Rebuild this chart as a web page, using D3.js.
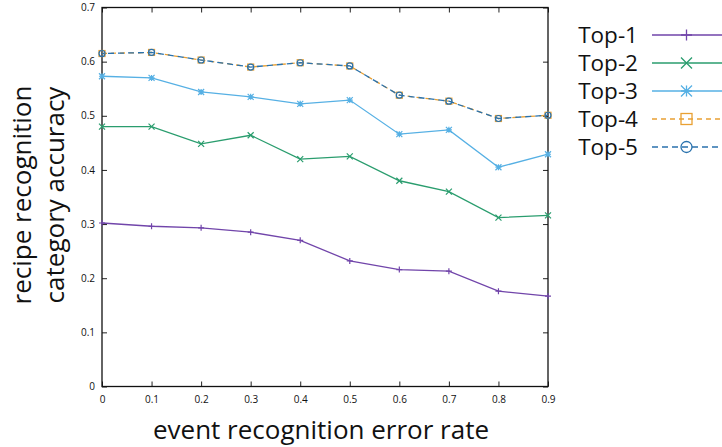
<!DOCTYPE html>
<html>
<head>
<meta charset="utf-8">
<script src="https://cdn.jsdelivr.net/npm/d3@7"></script>
<style>
  body { margin: 0; background: #fff; }
  text { font-family: "Open Sans", "Noto Sans", sans-serif; fill: #111; }
</style>
</head>
<body>
<div id="chart"></div>
<script>
var errorRates = [0, 0.1, 0.2, 0.3, 0.4, 0.5, 0.6, 0.7, 0.8, 0.9];
var top1 = [0.302, 0.296, 0.293, 0.285, 0.270, 0.232, 0.216, 0.213, 0.176, 0.167];
var top2 = [0.480, 0.480, 0.448, 0.464, 0.420, 0.425, 0.380, 0.360, 0.312, 0.316];
var top3 = [0.573, 0.570, 0.544, 0.535, 0.522, 0.529, 0.466, 0.474, 0.405, 0.429];
var top4 = [0.615, 0.617, 0.603, 0.590, 0.598, 0.592, 0.538, 0.527, 0.495, 0.501];
var top5 = [0.615, 0.617, 0.603, 0.590, 0.598, 0.592, 0.538, 0.527, 0.495, 0.501];
var seriesNames = ["Top-1", "Top-2", "Top-3", "Top-4", "Top-5"];
var yTicks = [0, 0.1, 0.2, 0.3, 0.4, 0.5, 0.6, 0.7];

var series = [
  {name: seriesNames[0], values: top1, color: "#7145aa", dash: null, marker: "plus"},
  {name: seriesNames[1], values: top2, color: "#2a9d6e", dash: null, marker: "cross"},
  {name: seriesNames[2], values: top3, color: "#56b0e4", dash: null, marker: "star"},
  {name: seriesNames[3], values: top4, color: "#e9a033", dash: "5,4", marker: "square"},
  {name: seriesNames[4], values: top5, color: "#2a72ad", dash: "6,4", marker: "circle", offset: 4}
];

var width = 722, height = 447;
var plotL = 102, plotR = 548, plotT = 7.5, plotB = 386.5;

var svg = d3.select("#chart").append("svg")
    .attr("width", width)
    .attr("height", height);

var x = d3.scaleLinear().domain([0, 0.9]).range([plotL, plotR]);
var y = d3.scaleLinear().domain([0, 0.7]).range([plotB, plotT]);

// axes: labels outside, ticks pointing inward
svg.append("g")
    .attr("transform", "translate(0," + plotB + ")")
    .call(d3.axisBottom(x).tickValues(errorRates).tickSizeInner(-5).tickSizeOuter(0)
      .tickPadding(9).tickFormat(d3.format("~g")));
svg.append("g")
    .attr("transform", "translate(" + plotL + ",0)")
    .call(d3.axisLeft(y).tickValues(yTicks).tickSizeInner(-5).tickSizeOuter(0)
      .tickPadding(7).tickFormat(d3.format("~g")));
// mirrored ticks on top and right
svg.append("g")
    .attr("transform", "translate(0," + plotT + ")")
    .call(d3.axisTop(x).tickValues(errorRates).tickSizeInner(-5).tickSizeOuter(0).tickFormat(""));
svg.append("g")
    .attr("transform", "translate(" + plotR + ",0)")
    .call(d3.axisRight(y).tickValues(yTicks).tickSizeInner(-5).tickSizeOuter(0).tickFormat(""));

svg.selectAll(".domain").remove();
svg.selectAll(".tick line").attr("stroke", "#222").attr("stroke-width", 1);
svg.selectAll(".tick text").style("font-size", "10px").attr("fill", "#222");

svg.append("rect")
    .attr("x", plotL).attr("y", plotT)
    .attr("width", plotR - plotL).attr("height", plotB - plotT)
    .attr("fill", "none").attr("stroke", "#111").attr("stroke-width", 1.3);

function drawMarker(g, type, cx, cy, s, color) {
  if (type === "plus") {
    g.append("path").attr("d", "M" + (cx - s) + "," + cy + "H" + (cx + s) + "M" + cx + "," + (cy - s) + "V" + (cy + s));
  } else if (type === "cross") {
    g.append("path").attr("d", "M" + (cx - s) + "," + (cy - s) + "L" + (cx + s) + "," + (cy + s) +
      "M" + (cx - s) + "," + (cy + s) + "L" + (cx + s) + "," + (cy - s));
  } else if (type === "star") {
    g.append("path").attr("d", "M" + (cx - s) + "," + cy + "H" + (cx + s) + "M" + cx + "," + (cy - s) + "V" + (cy + s) +
      "M" + (cx - s) + "," + (cy - s) + "L" + (cx + s) + "," + (cy + s) +
      "M" + (cx - s) + "," + (cy + s) + "L" + (cx + s) + "," + (cy - s));
  } else if (type === "square") {
    g.append("rect").attr("x", cx - s).attr("y", cy - s).attr("width", 2 * s).attr("height", 2 * s).attr("fill", "none");
  } else if (type === "circle") {
    g.append("circle").attr("cx", cx).attr("cy", cy).attr("r", s).attr("fill", "none");
  }
  g.attr("stroke", color);
}

var line = d3.line()
    .x(function(d, i) { return x(errorRates[i]); })
    .y(function(d) { return y(d); });

series.forEach(function(s) {
  var g = svg.append("g");
  g.append("path")
      .attr("d", line(s.values))
      .attr("fill", "none")
      .attr("stroke", s.color)
      .attr("stroke-width", 1.3)
      .attr("stroke-dasharray", s.dash)
      .attr("stroke-dashoffset", s.offset || 0);
  s.values.forEach(function(v, i) {
    var m = g.append("g").attr("stroke-width", 1.2);
    drawMarker(m, s.marker, x(errorRates[i]), y(v), 3, s.color);
  });
});

// legend
var legend = svg.append("g");
series.forEach(function(s, i) {
  var ly = 35 + i * 28;
  legend.append("text")
      .attr("x", 638).attr("y", ly)
      .attr("dy", "0.35em")
      .attr("text-anchor", "end")
      .style("font-size", "22.5px")
      .text(s.name);
  legend.append("line")
      .attr("x1", 652).attr("x2", 722)
      .attr("y1", ly).attr("y2", ly)
      .attr("stroke", s.color)
      .attr("stroke-width", 1.3)
      .attr("stroke-dasharray", s.dash);
  var m = legend.append("g").attr("stroke-width", 1.3);
  drawMarker(m, s.marker, 686.5, ly, 5.5, s.color);
});

// axis titles
svg.append("text")
    .attr("x", 321).attr("y", 439)
    .attr("text-anchor", "middle")
    .style("font-size", "26px")
    .text("event recognition error rate");

var yTitle = svg.append("text")
    .attr("transform", "translate(40,195) rotate(-90)")
    .attr("text-anchor", "middle")
    .style("font-size", "26px");
yTitle.append("tspan").attr("x", 0).attr("y", -9).text("recipe recognition");
yTitle.append("tspan").attr("x", 0).attr("y", 24).text("category accuracy");
</script>
</body>
</html>
